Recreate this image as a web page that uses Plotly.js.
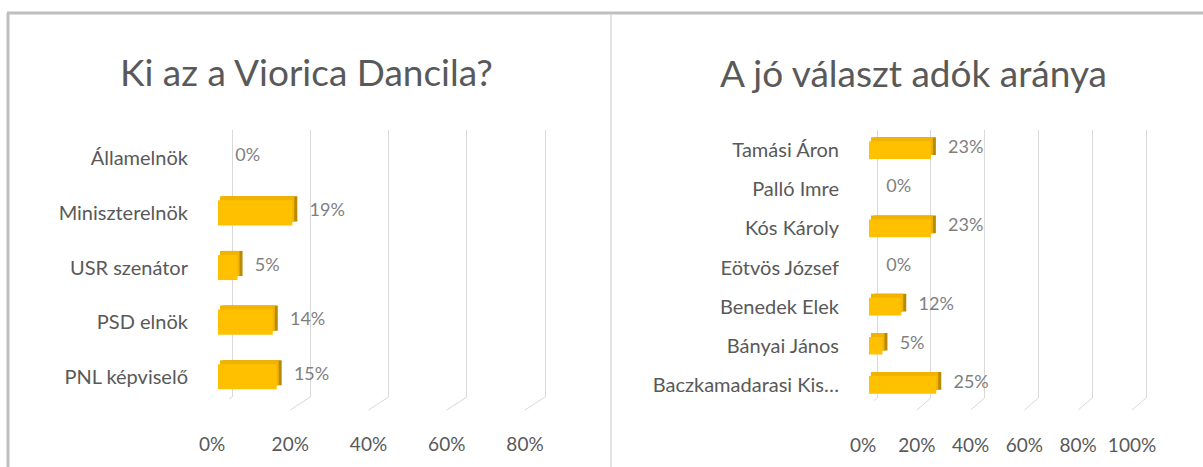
<!DOCTYPE html>
<html>
<head>
<meta charset="utf-8">
<script src="https://cdn.plot.ly/plotly-3.0.1.min.js"></script>
<style>html,body{margin:0;padding:0;background:#fff;}#chart{width:1203px;height:467px;}</style>
</head>
<body>
<div id="chart"></div>
<script>
// ---- data ----
const title1 = 'Ki az a Viorica Dancila?';
const cats1 = ['Államelnök', 'Miniszterelnök', 'USR szenátor', 'PSD elnök', 'PNL képviselő'];
const vals1 = [0, 0.19, 0.05, 0.14, 0.15];
const ticks1 = [0, 0.2, 0.4, 0.6, 0.8];

const title2 = 'A jó választ adók aránya';
const cats2 = ['Tamási Áron', 'Palló Imre', 'Kós Károly', 'Eötvös József', 'Benedek Elek', 'Bányai János', 'Baczkamadarasi Kis…'];
const vals2 = [0.23, 0, 0.23, 0, 0.12, 0.05, 0.25];
const ticks2 = [0, 0.2, 0.4, 0.6, 0.8, 1.0];

// ---- geometry helpers (pixels -> paper) ----
const W = 1203, H = 467;
const px = v => v / W;
const py = v => 1 - v / H;

const FONT = 'Lato, "Open Sans", sans-serif';
const GOLD = '#FFC000', GOLD_TOP = '#F2B300', GOLD_SIDE = '#B88A00';
const TXT = '#595959', LBL = '#7F7F7F', GRID = '#D9D9D9';

function hiddenX(dom, rng, anchor) {
  return {domain: dom, range: rng, showgrid: false, zeroline: false, showline: false,
          showticklabels: false, ticks: '', fixedrange: true, anchor: anchor};
}
function hiddenCatY(dom, cats, anchor) {
  return {domain: dom, type: 'category', categoryorder: 'array', categoryarray: cats,
          autorange: 'reversed', showgrid: false, zeroline: false, showline: false,
          showticklabels: false, ticks: '', fixedrange: true, anchor: anchor};
}

// chart specs
const charts = [
  {cats: cats1, vals: vals1, ticks: ticks1, rng: [0, 0.8],
   front0: 212, frontEnd: 525, depthX: 20, depthY: 13,
   yTop: 131, yBot: 404, barW: 0.46, ax: ['', '2', '3', '4'], title: title1, tx: 306, ty: 71},
  {cats: cats2, vals: vals2, ticks: ticks2, rng: [0, 1.0],
   front0: 863, frontEnd: 1132, depthX: 14, depthY: 12,
   yTop: 130.5, yBot: 404.5, barW: 0.45, ax: ['5', '6', '7', '8'], title: title2, tx: 913, ty: 72}
];

const data = [];
const layout = {
  width: W, height: H, margin: {l: 0, r: 0, t: 0, b: 0},
  paper_bgcolor: '#ffffff', plot_bgcolor: 'rgba(0,0,0,0)',
  showlegend: false, barmode: 'overlay',
  font: {family: FONT, color: TXT},
  shapes: [], annotations: []
};

charts.forEach(c => {
  const [g, sd, tp, f] = c.ax;
  const barOff = 6;       // bar front face offset inside the 3D box
  const shX = 5, shY = 4; // bar depth (extrusion)
  const len = c.frontEnd - c.front0;
  const k = (c.rng[1] - c.rng[0]) / len; // data units per pixel
  const pad = 3;          // widen grid axis so end gridlines are not clipped

  // grid (back wall)
  layout['xaxis' + g] = Object.assign(
    hiddenX([px(c.front0 + c.depthX - pad), px(c.frontEnd + c.depthX + pad)],
            [c.rng[0] - pad * k, c.rng[1] + pad * k], 'y' + g),
    {showgrid: true, gridcolor: GRID, gridwidth: 1, tickvals: c.ticks});
  layout['yaxis' + g] = {domain: [py(410 - c.depthY), py(c.yTop - 1)], range: [0, 1], showgrid: false,
    zeroline: false, showline: false, showticklabels: false, ticks: '', fixedrange: true, anchor: 'x' + g};
  data.push({type: 'scatter', x: [], y: [], xaxis: 'x' + g, yaxis: 'y' + g, hoverinfo: 'skip'});

  // floor diagonals
  c.ticks.forEach(t => {
    layout.shapes.push({type: 'line', xref: 'x' + g, xsizemode: 'pixel', xanchor: t === 0 ? 1e-9 : t,
      x0: -c.depthX, x1: 0, yref: 'paper', y0: py(410), y1: py(410 - c.depthY),
      line: {color: GRID, width: 1}});
  });

  // bar side face (depth, darker)
  layout['xaxis' + sd] = hiddenX([px(c.front0 + barOff + shX), px(c.frontEnd + barOff + shX)], c.rng, 'y' + sd);
  layout['yaxis' + sd] = hiddenCatY([py(c.yBot - shY), py(c.yTop - shY)], c.cats, 'x' + sd);
  data.push({type: 'bar', orientation: 'h', x: c.vals, y: c.cats, xaxis: 'x' + sd, yaxis: 'y' + sd,
    width: c.barW, marker: {color: GOLD_SIDE, line: {width: 0}},
    texttemplate: '\u00a0\u00a0%{x:.0%}', textposition: 'outside', cliponaxis: false, constraintext: 'none',
    textfont: {family: FONT, size: 18, color: LBL}, hoverinfo: 'skip'});

  // bar top face
  layout['xaxis' + tp] = hiddenX([px(c.front0 + barOff + 2), px(c.frontEnd + barOff + 2)], c.rng, 'y' + tp);
  layout['yaxis' + tp] = hiddenCatY([py(c.yBot - shY), py(c.yTop - shY)], c.cats, 'x' + tp);
  data.push({type: 'bar', orientation: 'h', x: c.vals, y: c.cats, xaxis: 'x' + tp, yaxis: 'y' + tp,
    width: c.barW, marker: {color: GOLD_TOP, line: {width: 0}}, hoverinfo: 'skip'});

  // bar front faces + visible axes
  layout['xaxis' + f] = {domain: [px(c.front0 + barOff), px(c.frontEnd + barOff)], range: c.rng,
    tickvals: c.ticks, tickformat: '.0%', showgrid: false, zeroline: false, showline: false,
    ticks: '', ticklabelshift: -barOff, ticklabelstandoff: 27, fixedrange: true,
    tickfont: {family: FONT, size: 19, color: TXT}, anchor: 'y' + f};
  layout['yaxis' + f] = Object.assign(hiddenCatY([py(c.yBot), py(c.yTop)], c.cats, 'x' + f),
    {showticklabels: true, ticklabelstandoff: 29, tickfont: {family: FONT, size: 20, color: TXT}});
  data.push({type: 'bar', orientation: 'h', x: c.vals, y: c.cats, xaxis: 'x' + f, yaxis: 'y' + f,
    width: c.barW, marker: {color: GOLD, line: {width: 0}}, hoverinfo: 'skip'});

  // title
  layout.annotations.push({text: c.title, xref: 'paper', yref: 'paper', x: px(c.tx), y: py(c.ty),
    xanchor: 'center', yanchor: 'middle', showarrow: false,
    font: {family: FONT, size: 37, color: TXT}});
});

// frame
layout.shapes.push(
  {type: 'line', xref: 'paper', yref: 'paper', x0: px(7), x1: 1, y0: py(13), y1: py(13), line: {color: '#BFBFBF', width: 3}},
  {type: 'line', xref: 'paper', yref: 'paper', x0: px(8), x1: px(8), y0: py(13), y1: 0, line: {color: '#BFBFBF', width: 3}},
  {type: 'line', xref: 'paper', yref: 'paper', x0: px(611), x1: px(611), y0: py(14), y1: 0, line: {color: GRID, width: 1.5}}
);

Plotly.newPlot('chart', data, layout, {staticPlot: true, displayModeBar: false});
</script>
</body>
</html>
